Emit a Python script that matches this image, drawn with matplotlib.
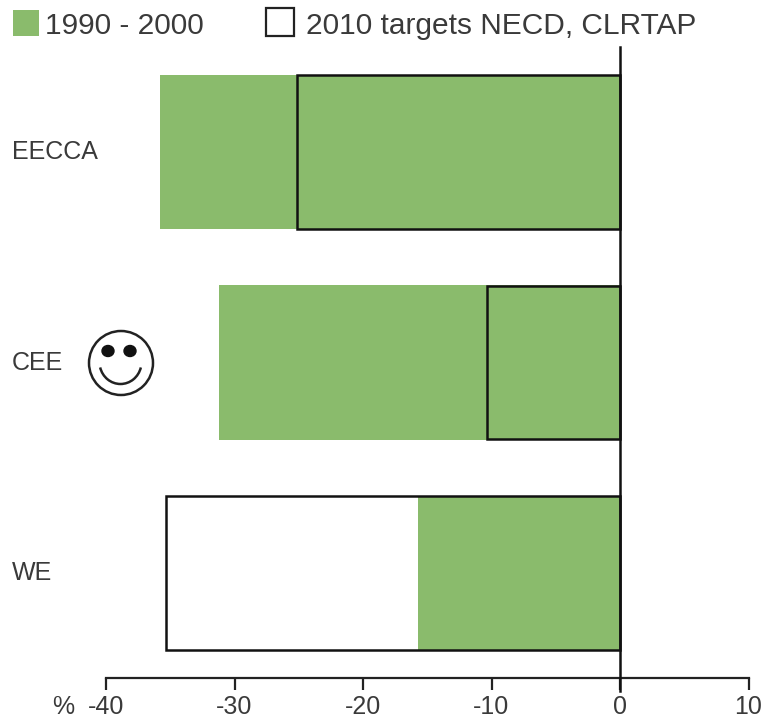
import matplotlib
matplotlib.use('Agg')
import matplotlib.pyplot as plt
from matplotlib.patches import Circle, Ellipse, Arc, Rectangle

plt.rcParams['font.family'] = ['Liberation Sans', 'DejaVu Sans']

regions = ['WE', 'CEE', 'EECCA']
change_1990_2000 = [-15.7, -31.2, -35.8]
targets_2010 = [-35.3, -10.35, -25.1]
tick_values = [-40, -30, -20, -10, 0, 10]
tick_labels = ['-40', '-30', '-20', '-10', '0', '10']
legend_labels = ['1990 - 2000', '2010 targets NECD, CLRTAP']

GREEN = '#8abb6c'
TEXT = '#3a3a3a'
W, H = 763, 719

fig = plt.figure(figsize=(W / 100, H / 100), dpi=100)
ax = fig.add_axes([106 / W, 1 - 678 / H, (748.5 - 106) / W, (678 - 47) / H])

pos = range(len(regions))
ax.barh(pos, change_1990_2000, height=0.735, color=GREEN, zorder=2)
ax.barh(pos, targets_2010, height=0.73, facecolor='none', edgecolor='#111111',
        linewidth=1.8, zorder=3)

ax.set_xlim(-40, 10)
ax.set_ylim(-0.5, 2.5)
ax.axvline(0, color='#111111', linewidth=1.8, zorder=4, ymin=-0.02, clip_on=False)

for s in ['top', 'left', 'right']:
    ax.spines[s].set_visible(False)
ax.spines['bottom'].set_linewidth(1.6)
ax.spines['bottom'].set_color('#222222')
ax.set_xticks(tick_values)
ax.set_xticklabels(tick_labels, fontsize=18, color=TEXT)
ax.tick_params(axis='x', length=8.5, width=1.6, color='#222222', pad=4)
ax.set_yticks(list(pos))
ax.set_yticklabels([])
ax.tick_params(axis='y', length=0)

# overlay in pixel coordinates for legend, labels and the smiley
ov = fig.add_axes([0, 0, 1, 1], facecolor='none')
ov.set_xlim(0, W)
ov.set_ylim(H, 0)
ov.axis('off')

for name, y in zip(regions, [573, 363, 152]):
    ov.text(12, y, name, fontsize=18, color=TEXT, va='center', ha='left')
ov.text(52, 695.4, '%', fontsize=18, color=TEXT, va='top', ha='left')

ov.add_patch(Rectangle((13, 10), 26, 26, facecolor=GREEN, edgecolor='none'))
ov.text(45, 34, legend_labels[0], fontsize=21.5, color=TEXT, va='baseline', ha='left')
ov.add_patch(Rectangle((266, 8), 28, 28, facecolor='white', edgecolor='#222222', linewidth=1.6))
ov.text(306, 34, legend_labels[1], fontsize=21.5, color=TEXT, va='baseline', ha='left')

# smiley
ov.add_patch(Circle((121, 363), 32, facecolor='white', edgecolor='#222222', linewidth=1.8))
ov.add_patch(Ellipse((108, 351), 12, 11, color='#111111'))
ov.add_patch(Ellipse((130, 351), 12, 11, color='#111111'))
ov.add_patch(Arc((120.5, 362), 42, 44, theta1=15, theta2=165, edgecolor='#222222', linewidth=1.8))

fig.savefig('out.png', dpi=100)
